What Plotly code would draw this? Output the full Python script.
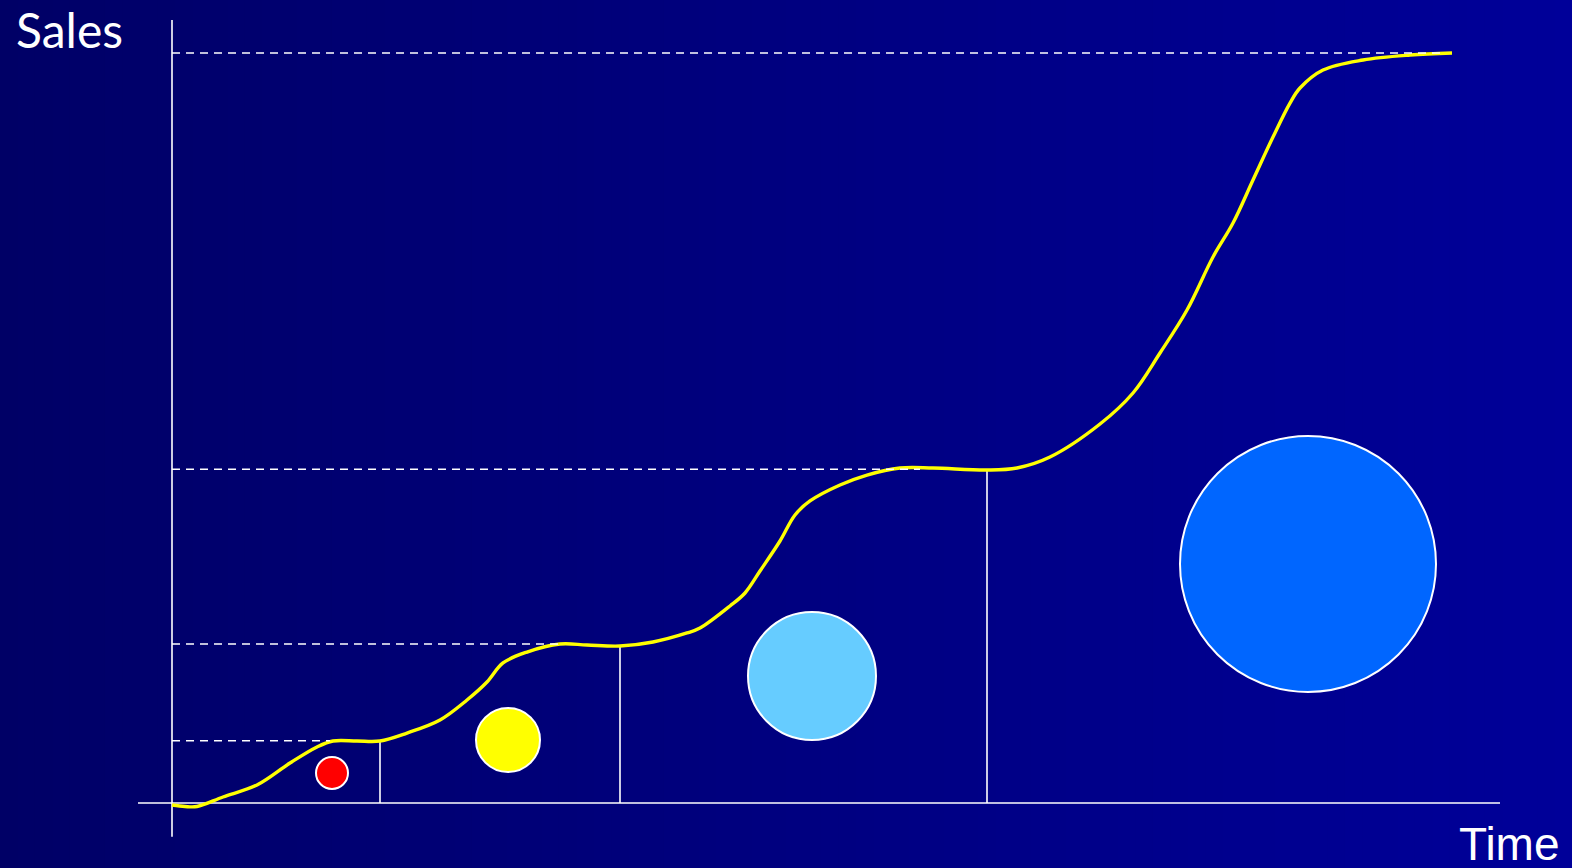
import plotly.graph_objects as go

# ---- data (time units, sales units) ----
curve_time = [0, 1.3, 2.5, 5.1, 8.5, 11.8, 14.5, 16.1, 18.5, 20.8, 23.5, 26.8, 29.5, 31.5,
              33.1, 35.5, 38.8, 41.5, 44.8, 48.1, 51.5, 52.8, 55.8, 57.3, 58.8, 60.8, 62.3,
              63.8, 66.8, 69.5, 72.8, 76.1, 81.5, 84.5, 87.8, 92.8, 96.1, 98.8, 101.5,
              104.1, 106.1, 108.1, 110.1, 111.8, 112.8, 115.1, 119.1, 123.8, 128.0]
curve_sales = [-0.27, -0.47, -0.47, 0.8, 2.4, 5.33, 7.47, 8.27, 8.27, 8.27, 9.33, 11.07, 13.73,
               16.13, 18.67, 20.13, 21.2, 21.07, 20.93, 21.47, 22.67, 23.33, 26.27, 28.0,
               30.93, 34.93, 38.4, 40.27, 42.4, 43.73, 44.67, 44.67, 44.4, 44.67, 46.13,
               50.53, 54.67, 60.0, 65.73, 72.8, 77.33, 83.07, 88.8, 93.33, 95.33, 97.73,
               99.07, 99.73, 100.0]

level_sales = [8.3, 21.2, 44.5, 100.0]          # dashed plateau levels
level_end_time = [15.8, 38.8, 74.8, 126.8]      # where dashed lines stop

stage_time = [20.8, 44.8, 81.5]                 # vertical stage separators
stage_top = [8.27, 21.0, 44.4]

circle_time = [16.0, 33.6, 64.0, 113.6]
circle_sales = [4.0, 8.4, 16.93, 31.87]
circle_diam = [32, 64, 128, 256]
circle_colors = ["#ff0000", "#ffff00", "#66ccff", "#0066ff"]

x_axis_span = [-3.4, 132.8]
y_axis_span = [-4.5, 104.4]

W, H = 1572, 868
X_RANGE = [-17.2, 140.0]
Y_RANGE = [-8.667, 107.067]

fig = go.Figure()

# axes lines
fig.add_trace(go.Scatter(x=x_axis_span, y=[0, 0], mode="lines",
                         line=dict(color="white", width=1.6), hoverinfo="skip"))
fig.add_trace(go.Scatter(x=[0, 0], y=y_axis_span, mode="lines",
                         line=dict(color="white", width=1.6), hoverinfo="skip"))

# vertical stage lines
for t, top in zip(stage_time, stage_top):
    fig.add_trace(go.Scatter(x=[t, t], y=[0, top], mode="lines",
                             line=dict(color="white", width=1.6), hoverinfo="skip"))

# curve
fig.add_trace(go.Scatter(x=curve_time, y=curve_sales, mode="lines",
                         line=dict(color="#ffff00", width=3.4, shape="spline", smoothing=1.0),
                         hoverinfo="skip"))

# dashed levels (drawn over the curve)
for s, te in zip(level_sales, level_end_time):
    fig.add_trace(go.Scatter(x=[0, te], y=[s, s], mode="lines",
                             line=dict(color="white", width=1.5, dash="8px,6px"),
                             hoverinfo="skip"))

# circles
fig.add_trace(go.Scatter(x=circle_time, y=circle_sales, mode="markers",
                         marker=dict(size=circle_diam, color=circle_colors,
                                     line=dict(color="white", width=2), opacity=1),
                         hoverinfo="skip"))

# gradient background stripes
n = 90
shapes = []
c0, c1 = 102, 153
for i in range(n):
    b = round(c0 + (c1 - c0) * (i + 0.5) / n)
    shapes.append(dict(type="rect", xref="paper", yref="paper",
                       x0=i / n, x1=(i + 1) / n + 0.002, y0=0, y1=1,
                       fillcolor=f"rgb(0,0,{b})", line=dict(width=0), layer="below"))

fig.update_layout(
    width=W, height=H,
    margin=dict(l=0, r=0, t=0, b=0),
    paper_bgcolor="rgb(0,0,102)",
    plot_bgcolor="rgba(0,0,0,0)",
    showlegend=False,
    shapes=shapes,
    xaxis=dict(range=X_RANGE, visible=False, fixedrange=True),
    yaxis=dict(range=Y_RANGE, visible=False, fixedrange=True),
    annotations=[
        dict(text="Sales", x=-15.8, y=103.2, xref="x", yref="y", xanchor="left",
             yanchor="middle", showarrow=False,
             font=dict(family="Lato", size=48, color="white")),
        dict(text="Time", x=128.5, y=-5.4, xref="x", yref="y", xanchor="left",
             yanchor="middle", showarrow=False,
             font=dict(family="Liberation Sans, Arial", size=46, color="white")),
    ],
)

fig.write_html("out.html", config={"displayModeBar": False},
               post_script="document.body.style.margin='0';document.body.style.overflow='hidden';")
